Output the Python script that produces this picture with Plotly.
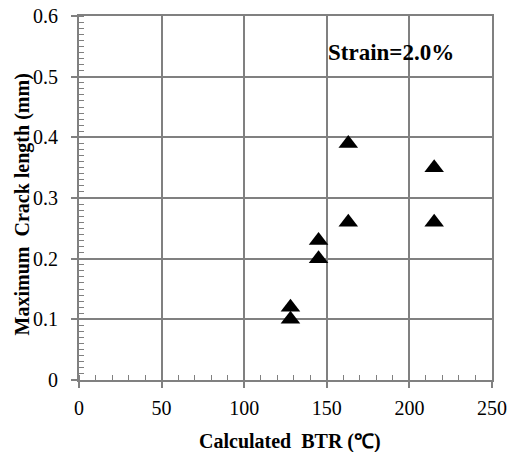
import plotly.graph_objects as go

btr = [128, 128, 145, 145, 163, 163, 215, 215]
crack = [0.12, 0.10, 0.23, 0.20, 0.39, 0.26, 0.35, 0.26]

x_ticks = [0, 50, 100, 150, 200, 250]
y_ticks = [0, 0.1, 0.2, 0.3, 0.4, 0.5, 0.6]
y_labels = ["0", "0.1", "0.2", "0.3", "0.4", "0.5", "0.6"]

grid = "#808080"
font_family = "Liberation Serif, Times New Roman, serif"

fig = go.Figure()
fig.add_trace(go.Scatter(
    x=btr, y=crack, mode="markers",
    marker=dict(symbol="triangle-up", size=17, color="black"),
    showlegend=False,
))

fig.add_annotation(
    x=189, y=0.54, xref="x", yref="y", text="<b>Strain=2.0%</b>",
    xanchor="center", yanchor="middle",
    showarrow=False, font=dict(family=font_family, size=23, color="black"),
)
fig.add_annotation(
    x=0.511, y=-0.170, xref="paper", yref="paper",
    text="<b>Calculated\u00a0 BTR (\u2103)</b>", xanchor="center", yanchor="middle",
    showarrow=False, font=dict(family=font_family, size=20, color="black"),
)
fig.add_annotation(
    x=-0.136, y=0.482, xref="paper", yref="paper",
    text="<b>Maximum\u00a0 Crack length (mm)</b>", textangle=-90,
    xanchor="center", yanchor="middle",
    showarrow=False, font=dict(family=font_family, size=20, color="black"),
)

fig.update_xaxes(
    range=[0, 250], tickvals=x_ticks, ticktext=[str(v) for v in x_ticks],
    showgrid=True, gridcolor=grid, gridwidth=2,
    showline=True, linecolor=grid, linewidth=2, mirror=True,
    ticks="outside", ticklen=6, tickcolor=grid, tickwidth=2,
    minor=dict(dtick=10, ticks="inside", ticklen=5, tickcolor=grid, tickwidth=1, showgrid=False),
    zeroline=False, automargin=False, ticklabelstandoff=3,
    tickfont=dict(family=font_family, size=20, color="black"),
)
fig.update_yaxes(
    range=[0, 0.6], tickvals=y_ticks, ticktext=y_labels,
    showgrid=True, gridcolor=grid, gridwidth=2,
    showline=True, linecolor=grid, linewidth=2, mirror=True,
    ticks="outside", ticklen=6, tickcolor=grid, tickwidth=2,
    minor=dict(dtick=0.01, ticks="inside", ticklen=5, tickcolor=grid, tickwidth=1, showgrid=False),
    zeroline=False, automargin=False, ticklabelstandoff=9,
    tickfont=dict(family=font_family, size=20, color="black"),
)

fig.update_layout(
    width=509, height=452,
    margin=dict(l=79, r=17, t=16, b=72),
    plot_bgcolor="white", paper_bgcolor="white",
)

fig.write_html("out.html")
